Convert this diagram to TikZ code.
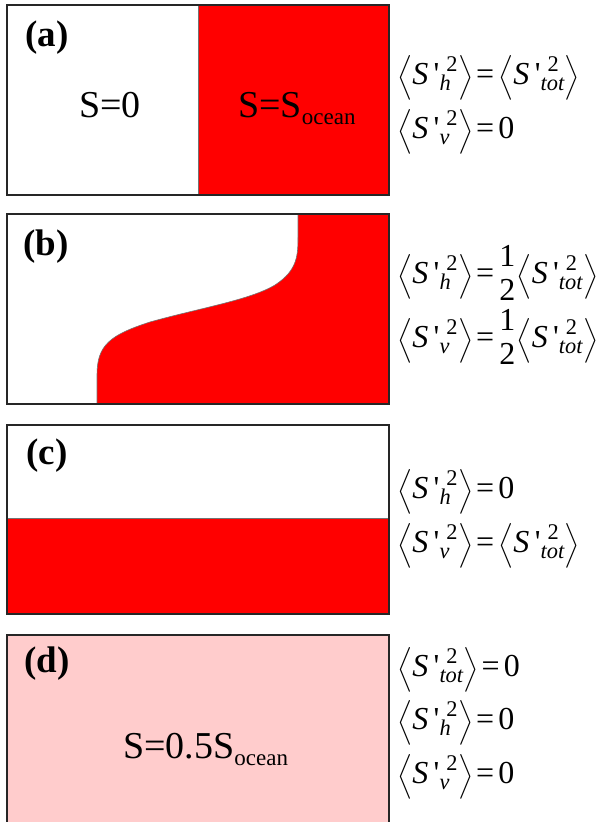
\documentclass[tikz,border=0pt]{standalone}
\usepackage{amsmath}
\usepackage{fontspec}
\setmainfont{Liberation Serif}
\newfontfamily\quotefont{Liberation Serif}[Ligatures=TeXOff]
\usepackage{tikz}

\definecolor{saltred}{rgb}{1,0,0}
\definecolor{saltpink}{RGB}{255,204,204}

% variance term < S'_#1 ^2 >
\newcommand{\varS}[1]{\Bigl\langle\text{\rmfamily\itshape S\,{\quotefont\upshape '}}^{\,\,\text{\rmfamily 2}}_{\text{\rmfamily\itshape #1}}\Bigr\rangle}
\newcommand{\eqs}{\mathord{\mkern2mu\text{\rmfamily =}\mkern3mu}}
\newcommand{\half}{\genfrac{}{}{0pt}{0}{\text{\rmfamily 1}}{\text{\rmfamily 2}}}
\newcommand{\zero}{\text{\rmfamily 0}}

\begin{document}
\begin{tikzpicture}[x=1pt,y=-1pt,
  panel/.style={draw=black!85,line width=1.6pt},
  edge/.style={draw=black!55,line width=0.6pt},
  tag/.style={font=\fontsize{37}{40}\selectfont\bfseries,inner sep=0pt},
  sval/.style={font=\fontsize{38}{44}\selectfont,inner sep=0pt,anchor=base west},
  eqn/.style={font=\fontsize{32}{28}\selectfont,inner sep=0pt,anchor=west}]

  \useasboundingbox[fill=white] (0,0) rectangle (606,822);

  % (a) two halves
  \fill[saltred] (198,5) rectangle (389,195);
  \draw[edge] (198,5) -- (198,195);
  \draw[panel] (7,5) rectangle (389,195);
  \node[tag] (tagA) at (47,38) {(a)};
  \node[sval] (freshA) at (79,117) {S=0};
  \node[sval] (saltA) at (238,117) {S=S\raisebox{-0.2em}{\fontsize{23}{23}\selectfont ocean}};
  \node[eqn] (eqA1) at (397,78) {$\varS{h}\eqs\varS{tot}$};
  \node[eqn] (eqA2) at (397,132) {$\varS{v}\eqs\zero$};

  % (b) tilted front
  \fill[saltred] (97,404) -- (97,375)
    .. controls (97,345) and (110,335) .. (150,322)
    .. controls (200,308) and (250,300) .. (275,285)
    .. controls (298,270) and (298,255) .. (298,235)
    -- (298,214) -- (389,214) -- (389,404) -- cycle;
  \draw[edge] (97,404) -- (97,375)
    .. controls (97,345) and (110,335) .. (150,322)
    .. controls (200,308) and (250,300) .. (275,285)
    .. controls (298,270) and (298,255) .. (298,235)
    -- (298,214);
  \draw[panel] (7,214) rectangle (389,404);
  \node[tag] (tagB) at (46,247) {(b)};
  \node[eqn] (eqB1) at (397,273) {$\varS{h}\eqs\half\varS{tot}$};
  \node[eqn] (eqB2) at (397,337) {$\varS{v}\eqs\half\varS{tot}$};

  % (c) stratified
  \fill[saltred] (7,518) rectangle (389,614);
  \draw[edge] (7,518) -- (389,518);
  \draw[panel] (7,425) rectangle (389,614);
  \node[tag] (tagC) at (47,456) {(c)};
  \node[eqn] (eqC1) at (397,492) {$\varS{h}\eqs\zero$};
  \node[eqn] (eqC2) at (397,546) {$\varS{v}\eqs\varS{tot}$};

  % (d) mixed
  \fill[saltpink] (7,635) rectangle (389,830);
  \draw[panel] (7,635) rectangle (389,830);
  \node[tag] (tagD) at (47,664) {(d)};
  \node[sval] (mixD) at (123,758) {S=0.5S\raisebox{-0.2em}{\fontsize{23}{23}\selectfont ocean}};
  \node[eqn] (eqD1) at (397,670) {$\varS{tot}\eqs\zero$};
  \node[eqn] (eqD2) at (397,723) {$\varS{h}\eqs\zero$};
  \node[eqn] (eqD3) at (397,777) {$\varS{v}\eqs\zero$};
\end{tikzpicture}
\end{document}
